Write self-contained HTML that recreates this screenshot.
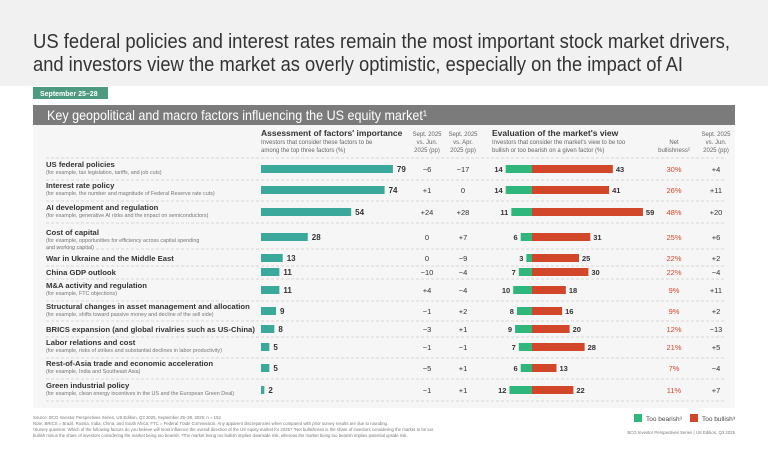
<!DOCTYPE html>
<html><head><meta charset="utf-8"><style>
body{margin:0;background:#fff;}
svg{display:block;font-family:"Liberation Sans",sans-serif;}
</style></head><body>
<svg id="c" width="768" height="457" viewBox="0 0 768 457" xmlns="http://www.w3.org/2000/svg">
<rect x="0" y="0" width="768" height="86" fill="#f1f1f1"/>
<text x="33" y="48" font-size="20" fill="#333" textLength="697" lengthAdjust="spacingAndGlyphs">US federal policies and interest rates remain the most important stock market drivers,</text>
<text x="33" y="71" font-size="20" fill="#333" textLength="650" lengthAdjust="spacingAndGlyphs">and investors view the market as overly optimistic, especially on the impact of AI</text>
<rect x="33" y="87" width="75" height="12" fill="#4e9a80"/>
<text x="40" y="96" font-size="7" font-weight="bold" fill="#fff">September 25–28</text>
<rect x="33" y="105" width="702" height="20" fill="#7b7b7b"/>
<text x="47" y="120" font-size="14" fill="#fff" textLength="380" lengthAdjust="spacingAndGlyphs">Key geopolitical and macro factors influencing the US equity market¹</text>
<rect x="33" y="125" width="702" height="283" fill="#f6f6f6"/>
<g font-size="8.5" font-weight="bold" fill="#333">
<text x="261" y="136">Assessment of factors' importance</text>
<text x="492" y="136">Evaluation of the market's view</text>
</g>
<g font-size="6" fill="#666">
<text x="261" y="144">Investors that consider these factors to be</text>
<text x="261" y="152">among the top three factors (%)</text>
<text x="492" y="144">Investors that consider the market's view to be too</text>
<text x="492" y="152">bullish or too bearish on a given factor (%)</text>
<g text-anchor="middle">
<text x="427" y="136">Sept. 2025</text><text x="427" y="144">vs. Jun.</text><text x="427" y="152">2025 (pp)</text>
<text x="463" y="136">Sept. 2025</text><text x="463" y="144">vs. Apr.</text><text x="463" y="152">2025 (pp)</text>
<text x="674" y="144">Net</text><text x="674" y="152">bullishness²</text>
<text x="716" y="136">Sept. 2025</text><text x="716" y="144">vs. Jun.</text><text x="716" y="152">2025 (pp)</text>
</g></g>
<g id="rows"></g>
<g font-size="4.3" fill="#777">
<text x="33" y="419">Source: BCG Investor Perspectives Series, US Edition, Q3 2025, September 25–28, 2025; n = 152.</text>
<text x="33" y="425">Note: BRICS = Brazil, Russia, India, China, and South Africa; FTC = Federal Trade Commission. Any apparent discrepancies when compared with prior survey results are due to rounding.</text>
<text x="33" y="431">¹Survey question: Which of the following factors do you believe will most influence the overall direction of the US equity market for 2025? ²Net bullishness is the share of investors considering the market to be too</text>
<text x="33" y="437">bullish minus the share of investors considering the market being too bearish. ³The market being too bullish implies downside risk, whereas the market being too bearish implies potential upside risk.</text>
<text x="735" y="434" text-anchor="end">BCG Investor Perspectives Series | US Edition, Q3 2025</text>
</g>
<rect x="634" y="414" width="8" height="8" fill="#2eb67d"/>
<text x="646" y="421" font-size="6.5" fill="#444">Too bearish³</text>
<rect x="690" y="414" width="8" height="8" fill="#d2472a"/>
<text x="702" y="421" font-size="6.5" fill="#444">Too bullish³</text>
</svg>
<script>
const factors=["US federal policies","Interest rate policy","AI development and regulation","Cost of capital","War in Ukraine and the Middle East","China GDP outlook","M&A activity and regulation","Structural changes in asset management and allocation","BRICS expansion (and global rivalries such as US-China)","Labor relations and cost","Rest-of-Asia trade and economic acceleration","Green industrial policy"];
const subLabels=[["(for example, tax legislation, tariffs, and job cuts)"],["(for example, the number and magnitude of Federal Reserve rate cuts)"],["(for example, generative AI risks and the impact on semiconductors)"],["(for example, opportunities for efficiency across capital spending","and working capital)"],[],[],["(for example, FTC objections)"],["(for example, shifts toward passive money and decline of the sell side)"],[],["(for example, risks of strikes and substantial declines in labor productivity)"],["(for example, India and Southeast Asia)"],["(for example, clean energy incentives in the US and the European Green Deal)"]];
const importance=[79,74,54,28,13,11,11,9,8,5,5,2];
const chgJun=["−6","+1","+24","0","0","−10","+4","−1","−3","−1","−5","−1"];
const chgApr=["−17","0","+28","+7","−9","−4","−4","+2","+1","−1","+1","+1"];
const bearish=[14,14,11,6,3,7,10,8,9,7,6,12];
const bullish=[43,41,59,31,25,30,18,16,20,28,13,22];
const netBull=["30%","26%","48%","25%","22%","22%","9%","9%","12%","21%","7%","11%"];
const netChg=["+4","+11","+20","+6","+2","−4","+11","+2","−13","+5","−4","+7"];
const rowY=[169,190,212,237,258,272,290,311,329,347,368,390];
const NS="http://www.w3.org/2000/svg";
const g=document.getElementById('rows');
const xImp=v=>261+v*1.67;
const xDiv=v=>532+v*1.88;
function el(t,a,txt){const e=document.createElementNS(NS,t);for(const k in a)e.setAttribute(k,a[k]);if(txt!==undefined)e.textContent=txt;g.appendChild(e);return e;}
const seps=[158,180,201,223,249,266,279,301,321,337,358,379,401];
seps.forEach((y,i)=>{const l=el('line',{x1:46,x2:725,y1:y,y2:y,stroke:'#ccc','stroke-width':0.8,'stroke-dasharray':'3,2'});

});
factors.forEach((f,i)=>{
 const y=rowY[i];const subs=subLabels[i];
 const ty=subs.length?y-2:y+3;
 const t=el('text',{x:46,y:ty,'font-size':7.7,'font-weight':'bold',fill:'#333'},f);
 
 
 subs.forEach((s,j)=>{const st=el('text',{x:46,y:ty+7+j*7,'font-size':5.4,fill:'#777'},s);
 
 });
 const b=el('rect',{x:261,y:y-4,width:xImp(importance[i])-261,height:8,fill:'#3aa89a'});
 
 
 const bl=el('text',{x:xImp(importance[i])+4,y:y+3,'font-size':8,'font-weight':'bold',fill:'#333'},importance[i]);
 
 
 const a=el('text',{x:427,y:y+3,'font-size':7.5,fill:'#333','text-anchor':'middle'},chgJun[i]);
 
 
 const c=el('text',{x:463,y:y+3,'font-size':7.5,fill:'#333','text-anchor':'middle'},chgApr[i]);
 
 
 const gb=el('rect',{x:xDiv(-bearish[i]),y:y-4,width:532-xDiv(-bearish[i]),height:8,fill:'#2eb67d'});
 
 
 const rb=el('rect',{x:532,y:y-4,width:xDiv(bullish[i])-532,height:8,fill:'#d2472a'});
 
 
 const gl=el('text',{x:xDiv(-bearish[i])-3,y:y+3,'font-size':7.5,'font-weight':'bold',fill:'#333','text-anchor':'end'},bearish[i]);
 
 
 const rl=el('text',{x:xDiv(bullish[i])+3,y:y+3,'font-size':7.5,'font-weight':'bold',fill:'#333'},bullish[i]);
 
 
 const n=el('text',{x:674,y:y+3,'font-size':7.5,fill:'#d2472a','text-anchor':'middle'},netBull[i]);
 
 
 const nc=el('text',{x:716,y:y+3,'font-size':7.5,fill:'#333','text-anchor':'middle'},netChg[i]);
 
 
});
</script>
</body></html>
